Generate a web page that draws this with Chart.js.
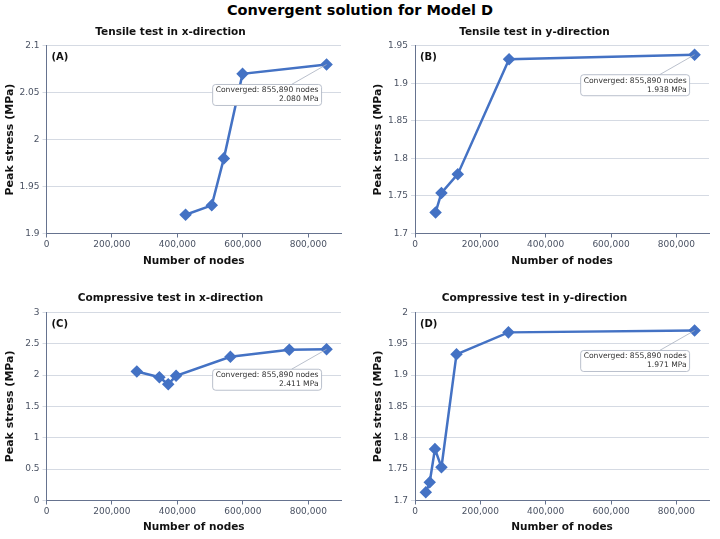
<!DOCTYPE html>
<html>
<head>
<meta charset="utf-8">
<script src="https://cdn.jsdelivr.net/npm/chart.js@4"></script>
<style>
  body { margin: 0; background: #fff; width: 720px; height: 539px; position: relative; overflow: hidden; font-family: "DejaVu Sans", sans-serif; }
  #title { position: absolute; left: 0; top: 2px; width: 720px; text-align: center; font-weight: bold; font-size: 14.5px; color: #000; }
  .cell { position: absolute; width: 360px; }
</style>
</head>
<body>
<div id="title">Convergent solution for Model D</div>
<div class="cell" style="left:0;top:22px;height:250px"><canvas id="cA"></canvas></div>
<div class="cell" style="left:360px;top:22px;height:250px"><canvas id="cB"></canvas></div>
<div class="cell" style="left:0;top:288px;height:251px"><canvas id="cC"></canvas></div>
<div class="cell" style="left:360px;top:288px;height:251px"><canvas id="cD"></canvas></div>
<script>
// Mesh convergence data
const NODES_A  = [425000, 505000, 542000, 599000, 855890];
const STRESS_A = [1.920, 1.930, 1.980, 2.070, 2.080];

const NODES_B  = [63000, 81000, 131000, 288000, 855890];
const STRESS_B = [1.728, 1.754, 1.779, 1.932, 1.938];

const NODES_C  = [276000, 345000, 372000, 396000, 562000, 742000, 855890];
const STRESS_C = [2.057, 1.966, 1.854, 1.988, 2.291, 2.403, 2.411];

const NODES_D  = [33000, 45000, 61000, 81000, 127000, 286000, 855890];
const STRESS_D = [1.713, 1.729, 1.782, 1.753, 1.933, 1.968, 1.971];

const X_TICKS = [0, 200000, 400000, 600000, 800000];

const BLUE = '#4472c4';
const FONT = 'DejaVu Sans';
const fmtInt = v => Number(v).toLocaleString('en-US');

// draws panel letter and the "Converged" callout next to the last point
const callout = {
  id: 'callout',
  afterDatasetsDraw(chart, args, opts) {
    const { ctx, chartArea } = chart;
    ctx.save();
    ctx.font = `bold 10px "${FONT}"`;
    ctx.fillStyle = '#111';
    ctx.textBaseline = 'middle';
    ctx.textAlign = 'left';
    ctx.fillText(opts.letter, chartArea.left + 5, chartArea.top + 12);

    const pts = chart.getDatasetMeta(0).data;
    const last = pts[pts.length - 1];
    const ds = chart.data.datasets[0].data;
    const val = ds[ds.length - 1];
    const lines = ['Converged: ' + fmtInt(val.x) + ' nodes', val.y.toFixed(3) + ' MPa'];
    ctx.font = `7.6px "${FONT}"`;
    const w = Math.max(...lines.map(l => ctx.measureText(l).width)) + 6;
    const h = 21;
    const right = last.x - 5, top = last.y + 20;
    ctx.strokeStyle = '#a8b0bf';
    ctx.lineWidth = 0.8;
    ctx.beginPath();
    ctx.moveTo(last.x, last.y);
    ctx.lineTo(right - 30, top);
    ctx.stroke();
    ctx.fillStyle = '#fff';
    ctx.beginPath();
    ctx.roundRect(right - w, top, w, h, 3);
    ctx.fill();
    ctx.stroke();
    ctx.fillStyle = '#333';
    ctx.textAlign = 'right';
    ctx.fillText(lines[0], right - 3, top + 6);
    ctx.fillText(lines[1], right - 3, top + 15);
    ctx.restore();
  }
};

function makeChart(id, title, letter, nodes, stress, yMin, yMax, yStep, yWidth, rightPad, yTitlePad, xTitlePad, titlePad) {
  new Chart(document.getElementById(id), {
    type: 'scatter',
    data: {
      datasets: [{
        data: nodes.map((n, i) => ({ x: n, y: stress[i] })),
        showLine: true,
        borderColor: BLUE,
        backgroundColor: BLUE,
        borderWidth: 2.5,
        pointStyle: 'rectRot',
        pointRadius: 4.5,
        pointHoverRadius: 4.5,
      }],
    },
    options: {
      responsive: true, maintainAspectRatio: false, animation: false,
      layout: { padding: { left: 0, right: rightPad, top: 0, bottom: 0 } },
      plugins: {
        legend: { display: false },
        tooltip: { enabled: false },
        title: { display: true, text: title, color: '#111', font: { family: FONT, size: 10.5, weight: 'bold' }, padding: { top: 4, bottom: titlePad } },
        callout: { letter },
      },
      scales: {
        x: {
          type: 'linear', min: 0, max: 900000,
          afterBuildTicks: s => { s.ticks = X_TICKS.map(v => ({ value: v })); },
          ticks: { autoSkip: false, maxRotation: 0, color: '#4a5263', font: { family: FONT, size: 9 }, padding: 2,
                   callback: v => fmtInt(v) },
          grid: { display: true, drawOnChartArea: false, drawTicks: true, tickLength: 4, color: '#66738f' },
          border: { display: true, color: '#66738f', width: 1 },
          title: { display: true, text: 'Number of nodes', color: '#111', font: { family: FONT, size: 10.5, weight: 'bold' }, padding: { top: 4, bottom: xTitlePad } },
          afterFit: s => { s.height = 38.5; },
        },
        y: {
          min: yMin, max: yMax,
          ticks: { stepSize: yStep, autoSkip: false, color: '#4a5263', font: { family: FONT, size: 9 }, padding: 3,
                   callback: v => +v.toFixed(2) + '' },
          grid: { color: '#d5dae3', lineWidth: 1, drawTicks: true, tickLength: 4 },
          border: { display: true, color: '#66738f', width: 1 },
          title: { display: true, text: 'Peak stress (MPa)', color: '#111', font: { family: FONT, size: 11, weight: 'bold' }, padding: { top: yTitlePad, bottom: 0 } },
          afterFit: s => { s.width = yWidth; },
        },
      },
    },
    plugins: [callout],
  });
}

makeChart('cA', 'Tensile test in x-direction', '(A)', NODES_A, STRESS_A, 1.9, 2.1, 0.05, 46.5, 19, 3.4, 4, 7.1);
makeChart('cB', 'Tensile test in y-direction', '(B)', NODES_B, STRESS_B, 1.7, 1.95, 0.05, 55, 11, 11.7, 4, 7.1);
makeChart('cC', 'Compressive test in x-direction', '(C)', NODES_C, STRESS_C, 0, 3, 0.5, 46.5, 19, 3.4, 5, 7.7);
makeChart('cD', 'Compressive test in y-direction', '(D)', NODES_D, STRESS_D, 1.7, 2, 0.05, 55, 11, 11.7, 5, 7.7);
</script>
</body>
</html>
